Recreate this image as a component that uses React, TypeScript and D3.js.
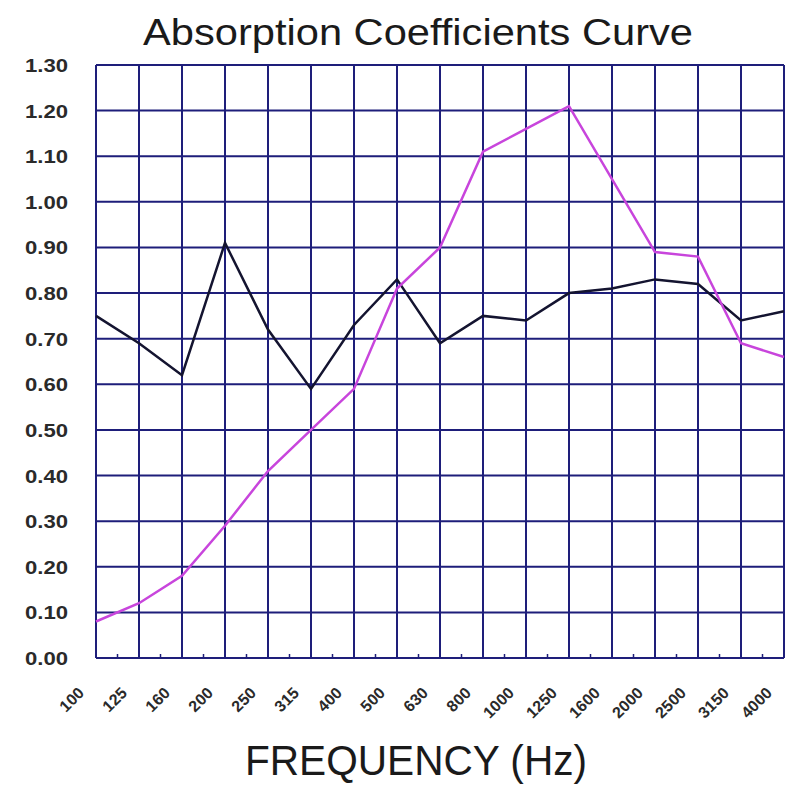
import React from "react";
import * as d3 from "d3";

const frequencies = ["100","125","160","200","250","315","400","500","630","800","1000","1250","1600","2000","2500","3150","4000"];
const seriesBlack = [0.75,0.69,0.62,0.91,0.72,0.59,0.73,0.83,0.69,0.75,0.74,0.80,0.81,0.83,0.82,0.74,0.76];
const seriesMagenta = [0.08,0.12,0.18,0.29,0.41,0.50,0.59,0.81,0.90,1.11,1.16,1.21,1.05,0.89,0.88,0.69,0.66];
const yTicks = [0,0.1,0.2,0.3,0.4,0.5,0.6,0.7,0.8,0.9,1.0,1.1,1.2,1.3];
const title = "Absorption Coefficients Curve";
const xTitle = "FREQUENCY (Hz)";

const W = 796, H = 789;
const L = 96, R = 784, T = 65, B = 658;
const grid = "#1e1e7a";

export default function App() {
  const x = d3.scalePoint<string>().domain(frequencies).range([L, R]);
  const y = d3.scaleLinear().domain([0, 1.3]).range([B, T]);
  const line = d3.line<number>().x((_, i) => x(frequencies[i])!).y((d) => y(d));
  const step = x.step();
  return (
    <svg width={W} height={H} style={{ position: "absolute", left: 0, top: 0, background: "#fff" }}
      fontFamily="'Liberation Sans', Arial, sans-serif">
      <rect x={0} y={0} width={W} height={H} fill="#fff" />
      <text x={418} y={45} textAnchor="middle" fontSize={36} fill="#1a1a1a" textLength={550} lengthAdjust="spacingAndGlyphs">{title}</text>
      {yTicks.map((t) => (
        <line key={"h" + t} x1={L} x2={R} y1={y(t)} y2={y(t)} stroke={grid} strokeWidth={2} />
      ))}
      {frequencies.map((f) => (
        <line key={"v" + f} x1={x(f)} x2={x(f)} y1={T} y2={B} stroke={grid} strokeWidth={2} />
      ))}
      {frequencies.slice(0, -1).map((f) => (
        <line key={"m" + f} x1={x(f)! + step / 2} x2={x(f)! + step / 2} y1={B} y2={B - 4} stroke={grid} strokeWidth={1.5} />
      ))}
      {yTicks.map((t) => (
        <text key={"yl" + t} x={68} y={y(t) + 7} textAnchor="end" fontSize={19} fontWeight="bold" fill="#2a2a2a"
          textLength={43} lengthAdjust="spacingAndGlyphs">{t.toFixed(2)}</text>
      ))}
      {frequencies.map((f) => (
        <text key={"xl" + f} transform={`translate(${x(f)! - 11},${B + 36}) rotate(-45)`} textAnchor="end" fontSize={16} fontWeight="bold" fill="#2a2a2a">{f}</text>
      ))}
      <path d={line(seriesBlack)!} fill="none" stroke="#141430" strokeWidth={2.5} />
      <path d={line(seriesMagenta)!} fill="none" stroke="#c845dc" strokeWidth={2.5} />
      <text x={416} y={775} textAnchor="middle" fontSize={42} fill="#1a1a1a" textLength={342} lengthAdjust="spacingAndGlyphs">{xTitle}</text>
    </svg>
  );
}
